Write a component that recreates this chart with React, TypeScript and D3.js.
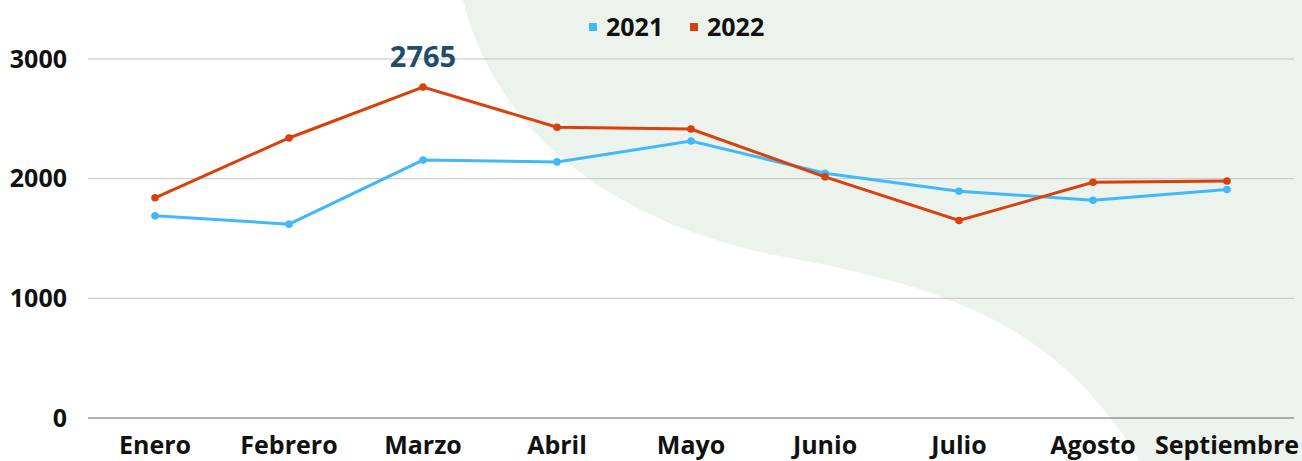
import React from 'react'
import * as d3 from 'd3'

const months = ['Enero', 'Febrero', 'Marzo', 'Abril', 'Mayo', 'Junio', 'Julio', 'Agosto', 'Septiembre']
const values2021 = [1690, 1620, 2155, 2140, 2315, 2045, 1895, 1820, 1910]
const values2022 = [1840, 2340, 2765, 2430, 2415, 2015, 1650, 1970, 1980]
const yTicks = [0, 1000, 2000, 3000]

const width = 1302
const height = 461
const margin = { top: 59, right: 8, bottom: 43, left: 88 }

const blue = '#41b8f9'
const orange = '#d9400b'
const font = '"Open Sans", sans-serif'

export default function App() {
	const x = d3
		.scaleBand<string>()
		.domain(months)
		.range([margin.left, width - margin.right])
	const y = d3
		.scaleLinear()
		.domain([0, 3000])
		.range([height - margin.bottom, margin.top])

	const cx = (m: string) => (x(m) as number) + x.bandwidth() / 2
	const line = d3
		.line<number>()
		.x((_, i) => cx(months[i]))
		.y(d => y(d))

	const series = [
		{ name: '2021', color: blue, data: values2021 },
		{ name: '2022', color: orange, data: values2022 },
	]

	// decorative background blob
	const bg = d3.path()
	bg.moveTo(463, 0)
	bg.bezierCurveTo(495, 130, 610, 225, 790, 258)
	bg.bezierCurveTo(960, 290, 1060, 330, 1140, 461)
	bg.lineTo(width, height)
	bg.lineTo(width, 0)
	bg.closePath()

	const maxIdx = values2022.indexOf(d3.max(values2022) as number)

	return (
		<svg
			width={width}
			height={height}
			style={{ position: 'absolute', left: 0, top: 0, display: 'block' }}
		>
			<rect width={width} height={height} fill="#ffffff" />
			<path d={bg.toString()} fill="#ebf3ec" />

			{yTicks.map(t => (
				<g key={t}>
					<line
						x1={margin.left}
						x2={width - margin.right}
						y1={y(t)}
						y2={y(t)}
						stroke={t === 0 ? '#666' : '#c4c4c4'}
						strokeWidth={1}
					/>
					<text
						x={67}
						y={y(t)}
						dy="0.35em"
						textAnchor="end"
						fontFamily={font}
						fontWeight={700}
						fontSize={25}
						fill="#111"
					>
						{t}
					</text>
				</g>
			))}

			{months.map(m => (
				<text
					key={m}
					x={cx(m)}
					y={454}
					textAnchor="middle"
					fontFamily={font}
					fontWeight={700}
					fontSize={25}
					fill="#111"
				>
					{m}
				</text>
			))}

			{series.map(s => (
				<g key={s.name}>
					<path d={line(s.data) as string} fill="none" stroke={s.color} strokeWidth={3} />
					{s.data.map((v, i) => (
						<circle key={i} cx={cx(months[i])} cy={y(v)} r={3.8} fill={s.color} />
					))}
				</g>
			))}

			<text
				x={cx(months[maxIdx])}
				y={67}
				textAnchor="middle"
				fontFamily={font}
				fontWeight={700}
				fontSize={29}
				fill="#1f4d6d"
			>
				{values2022[maxIdx]}
			</text>

			{series.map((s, i) => (
				<g key={s.name} transform={`translate(${589 + i * 101}, 27)`}>
					<rect x={0} y={-4} width={8} height={8} fill={s.color} />
					<text
						x={17}
						dy="0.35em"
						fontFamily={font}
						fontWeight={700}
						fontSize={25}
						fill="#111"
					>
						{s.name}
					</text>
				</g>
			))}
		</svg>
	)
}
